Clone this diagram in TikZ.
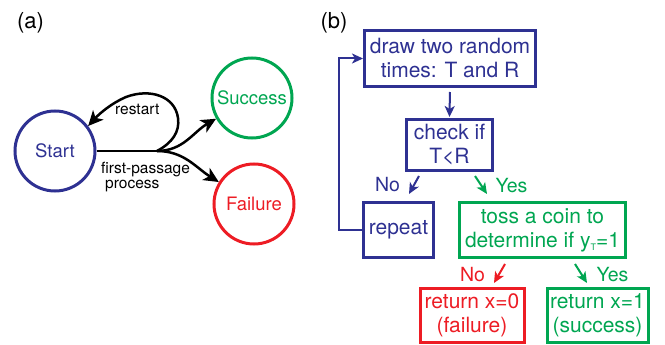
\documentclass[tikz,border=0pt]{standalone}
\usepackage{fontspec}
\setmainfont{TeX Gyre Heros}
\usetikzlibrary{arrows.meta}
\definecolor{cblue}{RGB}{46,49,146}
\definecolor{cgreen}{RGB}{0,166,81}
\definecolor{cred}{RGB}{237,28,36}
\begin{document}
\begin{tikzpicture}[x=1pt,y=-1pt,
 circ/.style={circle, draw, line width=3pt, minimum size=80pt, inner sep=0pt, font=\fontsize{18.5}{20}\selectfont},
 fbox/.style={draw, line width=3pt, inner sep=0pt, align=center, font=\fontsize{21}{24}\selectfont},
 small/.style={font=\fontsize{15.5}{17}\selectfont, inner sep=0pt},
 lab/.style={font=\fontsize{19.5}{21}\selectfont, inner sep=0pt},
 panel/.style={font=\fontsize{22}{24}\selectfont, inner sep=0pt},
 barr/.style={line width=2pt, -{Stealth[length=11pt,width=10pt,inset=3pt]}},
 karr/.style={line width=2.5pt, -{Stealth[length=15pt,width=14pt,inset=4pt]}},
]
\useasboundingbox (0,0) rectangle (665,345);
% panel (a)
\node[panel] (pa) at (30.5,23) {(a)};
\node[circ, color=cblue] (start) at (55,151) {Start};
\node[circ, color=cgreen] (succ) at (252,98) {Success};
\node[circ, color=cred] (fail) at (254,204) {Failure};
\coordinate (j) at (157,151);
\draw[line width=2.5pt] (start.east) -- (j);
\draw[karr] (j) to[out=0,in=210] (succ.210);
\draw[karr] (j) to[out=0,in=148] (fail.148);
\draw[karr] (j) .. controls (172,143) and (180,132) .. (178,118)
  .. controls (175,96) and (150,88) .. (126,97)
  .. controls (112,103) and (100,113) .. (start.37);
\node[small, anchor=base west] (rl) at (115,115) {restart};
\node[small, anchor=base west] (fp1) at (101,174) {first-passage};
\node[small, anchor=base west] (fp2) at (105,188) {process};
% panel (b)
\node[panel] (pb) at (334,23) {(b)};
\node[fbox, color=cblue, minimum width=171pt, minimum height=56pt] (box1) at (450,58.5) {draw two random\\times: T and R};
\node[fbox, color=cblue, minimum width=86pt, minimum height=51pt] (box2) at (449.5,145) {check if\\T<R};
\node[fbox, color=cblue, minimum width=70pt, minimum height=55pt] (rep) at (398.5,230) {repeat};
\node[fbox, color=cgreen, minimum width=166pt, minimum height=55pt] (toss) at (542.5,230) {toss a coin to\\determine if y\raisebox{-3pt}{\fontsize{9}{9}\selectfont T}=1};
\node[fbox, color=cred, minimum width=104pt, minimum height=54pt] (ret0) at (472,315.5) {return x=0\\(failure)};
\node[fbox, color=cgreen, minimum width=101pt, minimum height=54pt] (ret1) at (597.5,315.5) {return x=1\\(success)};
\draw[barr, color=cblue, shorten <=4pt, shorten >=1pt] (box1.south) -- (box2.north);
\draw[barr, color=cblue] (rep.west) -- ++(-23,0) |- (box1.west);
\coordinate (n1a) at (419,176); \coordinate (n1b) at (409,194);
\coordinate (y1a) at (475,176); \coordinate (y1b) at (487,194);
\coordinate (n2a) at (505,264); \coordinate (n2b) at (494,283);
\coordinate (y2a) at (575,264); \coordinate (y2b) at (587,283);
\draw[barr, color=cblue] (n1a) -- (n1b);
\draw[barr, color=cgreen] (y1a) -- (y1b);
\draw[barr, color=cred] (n2a) -- (n2b);
\draw[barr, color=cgreen] (y2a) -- (y2b);
\node[lab, color=cblue] (no1) at (387.5,184.5) {No};
\node[lab, color=cgreen] (yes1) at (511.5,185.5) {Yes};
\node[lab, color=cred] (no2) at (472.5,274.5) {No};
\node[lab, color=cgreen] (yes2) at (612.5,274.5) {Yes};
\end{tikzpicture}
\end{document}
